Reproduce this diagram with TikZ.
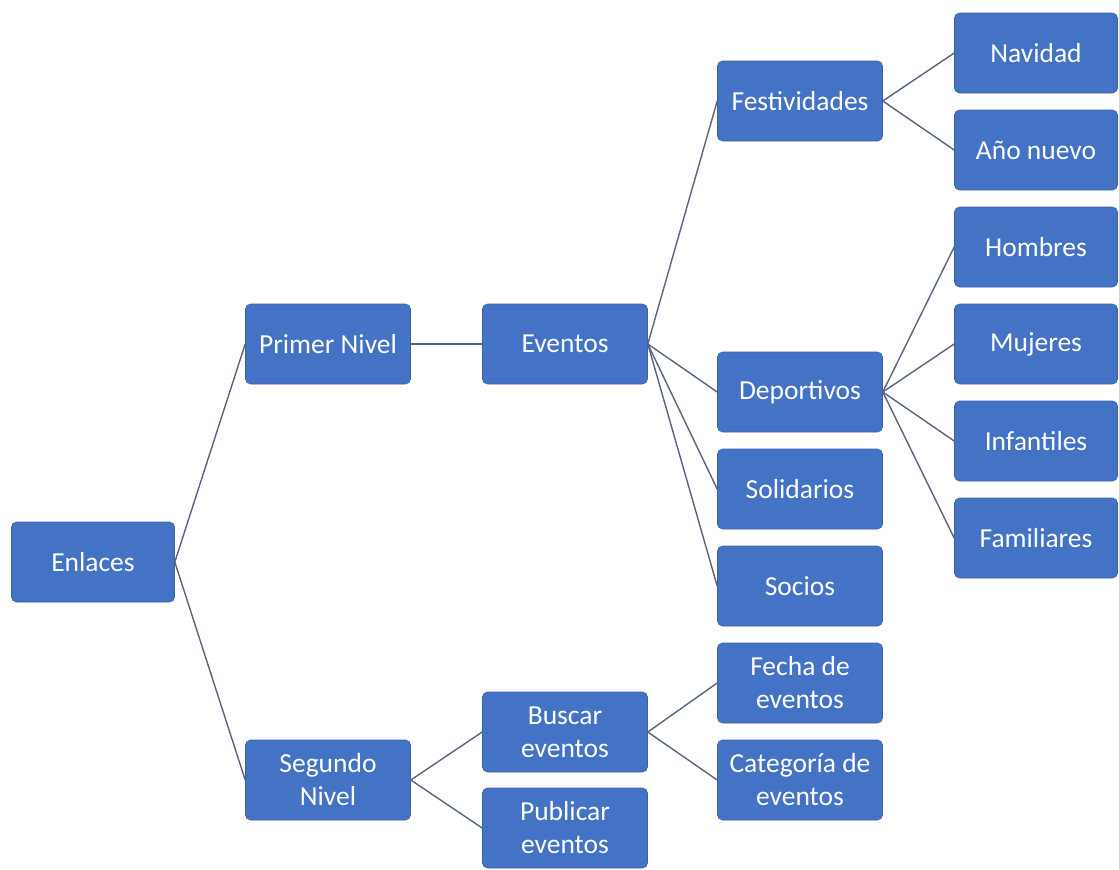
\documentclass[tikz,border=0pt]{standalone}
\usepackage{fontspec}
\setmainfont{Carlito}
\usepackage{xcolor}
\usetikzlibrary{positioning}
\definecolor{boxblue}{HTML}{4472C4}
\definecolor{linkgray}{HTML}{56657F}

\tikzset{
    box/.style={rectangle, rounded corners=5pt, fill=boxblue, draw=boxblue!85!black, line width=0.6pt,
        text=white, minimum width=165pt, minimum height=80pt, align=center,
        font=\fontsize{27.5}{33}\selectfont, inner sep=2pt},
    link/.style={linkgray, line width=1.4pt}
}

\begin{document}
\begin{tikzpicture}[x=1pt, y=-1pt]
        \useasboundingbox (0,0) rectangle (1119,870);
        % level 0
        \node[box, minimum width=163pt] (enl) at (93,562) {Enlaces};
        % level 1
        \node[box] (prim) at (328,344) {Primer Nivel};
        \node[box] (seg) at (328,780) {Segundo\\Nivel};
        % level 2
        \node[box] (evt) at (565,344) {Eventos};
        \node[box] (busc) at (565,732) {Buscar\\eventos};
        \node[box] (publ) at (565,828) {Publicar\\eventos};
        % level 3
        \node[box] (fest) at (800,101) {Festividades};
        \node[box] (dep) at (800,392) {Deportivos};
        \node[box] (sol) at (800,489) {Solidarios};
        \node[box] (soc) at (800,586) {Socios};
        \node[box] (fecha) at (800,683) {Fecha de\\eventos};
        \node[box] (cat) at (800,780) {Categoría de\\eventos};
        % level 4
        \node[box, minimum width=163pt] (nav) at (1036,53) {Navidad};
        \node[box, minimum width=163pt] (anio) at (1036,150) {Año nuevo};
        \node[box, minimum width=163pt] (homb) at (1036,247) {Hombres};
        \node[box, minimum width=163pt] (muj) at (1036,344) {Mujeres};
        \node[box, minimum width=163pt] (inf) at (1036,441) {Infantiles};
        \node[box, minimum width=163pt] (fam) at (1036,538) {Familiares};

        \draw[link] (enl.east) -- (prim.west);
        \draw[link] (enl.east) -- (seg.west);
        \draw[link] (prim.east) -- (evt.west);
        \draw[link] (seg.east) -- (busc.west);
        \draw[link] (seg.east) -- (publ.west);
        \foreach \k in {fest, dep, sol, soc}
            \draw[link] (evt.east) -- (\k.west);
        \draw[link] (busc.east) -- (fecha.west);
        \draw[link] (busc.east) -- (cat.west);
        \draw[link] (fest.east) -- (nav.west);
        \draw[link] (fest.east) -- (anio.west);
        \foreach \k in {homb, muj, inf, fam}
            \draw[link] (dep.east) -- (\k.west);
\end{tikzpicture}
\end{document}
